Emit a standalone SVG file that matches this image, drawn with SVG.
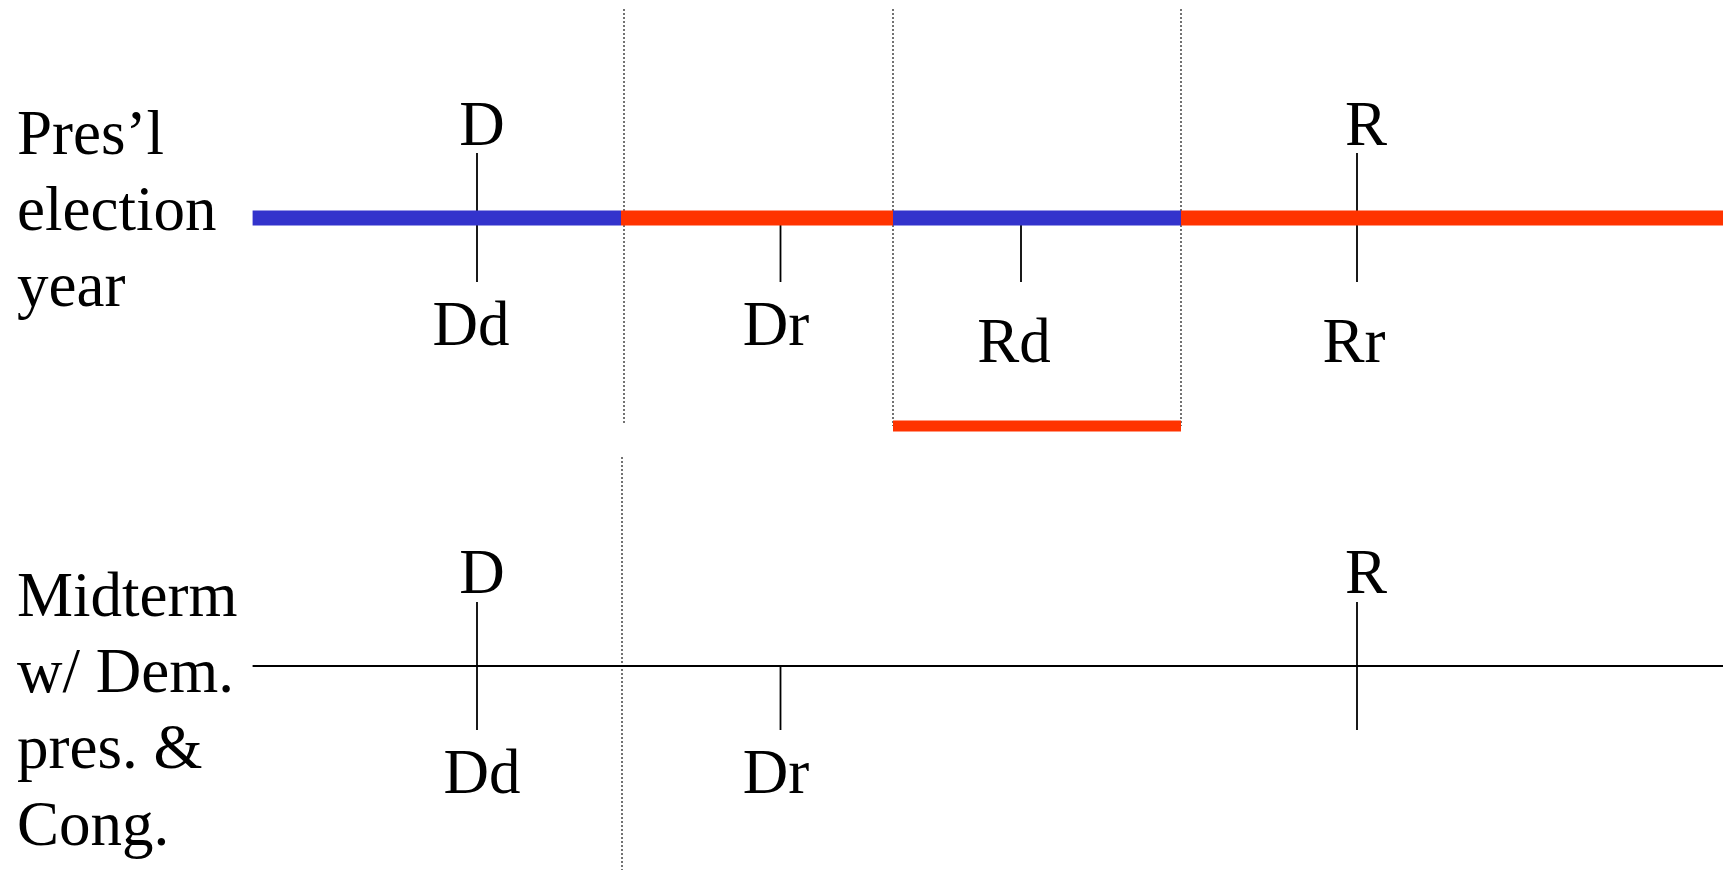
<svg xmlns="http://www.w3.org/2000/svg" width="1723" height="870" viewBox="0 0 1723 870">
<style>
text{font-family:"Liberation Serif","Times New Roman",serif;font-size:63px;fill:#000}
.c{text-anchor:middle}
.blue{stroke:#3333CC;stroke-width:15;fill:none}
.red{stroke:#FF3300;stroke-width:15;fill:none}
.tick{stroke:#000;stroke-width:1.8;fill:none}
.dot{stroke:#444;stroke-width:1.5;stroke-dasharray:2 2;fill:none}
</style>
<rect width="1723" height="870" fill="#fff"/>
<g id="dividers">
<line class="dot" x1="624" y1="9" x2="624" y2="423"/>
<line class="dot" x1="893" y1="9" x2="893" y2="426"/>
<line class="dot" x1="1181" y1="9" x2="1181" y2="426"/>
<line class="dot" x1="622" y1="457" x2="622" y2="870"/>
</g>
<g id="connectors">
<line class="tick" x1="477" y1="153" x2="477" y2="282"/>
<line class="tick" x1="780.5" y1="218" x2="780.5" y2="282"/>
<line class="tick" x1="1021" y1="218" x2="1021" y2="282"/>
<line class="tick" x1="1357" y1="153" x2="1357" y2="282"/>
<line class="blue" x1="252.6" y1="218" x2="621" y2="218"/>
<line class="red" x1="621" y1="218" x2="893" y2="218"/>
<line class="blue" x1="893" y1="218" x2="1181" y2="218"/>
<line class="red" x1="1181" y1="218" x2="1723" y2="218"/>
<line class="red" style="stroke-width:11" x1="893" y1="426" x2="1181" y2="426"/>
<line class="tick" style="stroke-width:2.2" x1="252.6" y1="666" x2="1723" y2="666"/>
<line class="tick" x1="477" y1="602" x2="477" y2="730"/>
<line class="tick" x1="780.5" y1="666" x2="780.5" y2="730"/>
<line class="tick" x1="1357" y1="602" x2="1357" y2="730"/>
</g>
<g id="label-pres">
<text x="17" y="154">Pres’l</text>
<text x="17" y="230">election</text>
<text x="17" y="306">year</text>
</g>
<g id="label-mid">
<text x="17" y="616">Midterm</text>
<text x="17" y="692">w/ Dem.</text>
<text x="17" y="768">pres. &amp;</text>
<text x="17" y="845">Cong.</text>
</g>
<g id="top-labels">
<text class="c" x="482" y="145">D</text>
<text class="c" x="471" y="345">Dd</text>
<text class="c" x="776" y="345">Dr</text>
<text class="c" x="1014" y="362">Rd</text>
<text class="c" x="1366" y="145">R</text>
<text class="c" x="1354" y="362">Rr</text>
</g>
<g id="bottom-labels">
<text class="c" x="482" y="593">D</text>
<text class="c" x="482" y="793">Dd</text>
<text class="c" x="776" y="793">Dr</text>
<text class="c" x="1366" y="593">R</text>
</g>
</svg>
